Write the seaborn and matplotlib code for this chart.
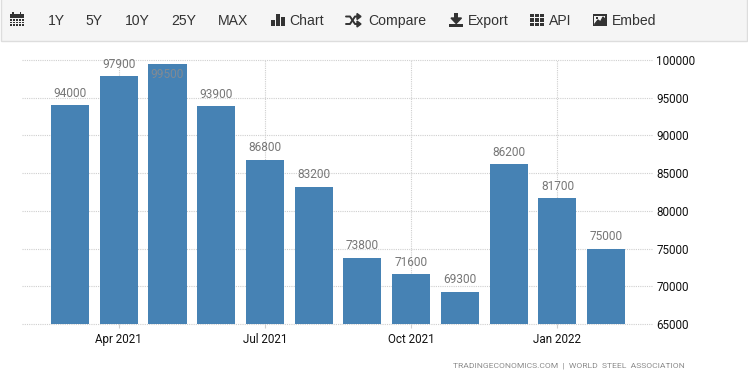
import matplotlib
matplotlib.use('Agg')
import matplotlib.pyplot as plt
import pandas as pd
import seaborn as sns
from matplotlib.patches import Rectangle, Polygon

months = ['Mar 2021', 'Apr 2021', 'May 2021', 'Jun 2021', 'Jul 2021', 'Aug 2021',
          'Sep 2021', 'Oct 2021', 'Nov 2021', 'Dec 2021', 'Jan 2022', 'Feb 2022']
production = [94000, 97900, 99500, 93900, 86800, 83200,
              73800, 71600, 69300, 86200, 81700, 75000]
y_ticks = [65000, 70000, 75000, 80000, 85000, 90000, 95000, 100000]
x_tick_labels = ['Apr 2021', 'Jul 2021', 'Oct 2021', 'Jan 2022']
range_buttons = ['1Y', '5Y', '10Y', '25Y', 'MAX']
menu_buttons = ['Chart', 'Compare', 'Export', 'API', 'Embed']
source_text = 'TRADINGECONOMICS.COM  |  WORLD  STEEL  ASSOCIATION'

W, H = 748, 380
sns.set_theme(style='white')
plt.rcParams['font.family'] = ['Liberation Sans', 'DejaVu Sans']

df = pd.DataFrame({'month': months, 'production': production})

fig = plt.figure(figsize=(W / 100, H / 100), dpi=100)
fig.patch.set_facecolor('white')
ax = fig.add_axes([22 / W, 1 - 324 / H, 630 / W, 264 / H])

sns.barplot(data=df, x='month', y='production', color='#4682b4', saturation=1,
            width=0.78, linewidth=0, ax=ax, zorder=3)

ax.set_xlim(-0.985, 11.94)
ax.set_ylim(65000, 100000)
ax.set_xlabel('')
ax.set_ylabel('')
for s in ax.spines.values():
    s.set_visible(False)

# grid
ax.set_axisbelow(True)
ax.grid(True, color='#cfcfcf', linestyle=(0, (1, 1)), linewidth=0.8, clip_on=False)

ax.yaxis.tick_right()
ax.set_yticks(y_ticks)
ax.set_yticklabels([str(v) for v in y_ticks], family='Roboto', fontsize=8.4, color='#111111')
ax.tick_params(axis='y', length=0, pad=3)
ax.set_xticks([months.index(m) for m in x_tick_labels])
ax.set_xticklabels(x_tick_labels, family='Roboto', fontsize=8.4, color='#111111')
ax.tick_params(axis='x', length=3, width=0.8, color='#cfcfcf', pad=3.5, bottom=True)

# value labels
for i, v in enumerate(production):
    if v == max(production):
        ax.annotate(str(v), (i, v), xytext=(0, -8), textcoords='offset points', ha='center',
                    va='center', family='Roboto', fontsize=8.6, color='#808a94', zorder=5)
    else:
        ax.annotate(str(v), (i, v), xytext=(0, 8.5), textcoords='offset points', ha='center',
                    va='center', family='Roboto', fontsize=8.6, color='#777777', zorder=5,
                    annotation_clip=False)

fig.text(685 / W, 1 - 366 / H, source_text, ha='right', va='center', family='Roboto',
         fontsize=6.1, color='#8c8c8c')

# toolbar, drawn in pixel coordinates
bar = fig.add_axes([0, 0, 1, 1], facecolor='none')
bar.set_xlim(0, W)
bar.set_ylim(H, 0)
bar.axis('off')
bar.add_patch(Rectangle((0.5, -2), W - 1, 42.5, facecolor='#f5f5f5', edgecolor='#dddddd', linewidth=1))

dark = '#333333'
for label, x in zip(range_buttons, [56, 94.5, 137.5, 184, 233.5]):
    bar.text(x, 21, label, ha='center', va='center', fontsize=10.1, color=dark)
for label, x in zip(menu_buttons, [289, 368, 468, 549, 612]):
    bar.text(x, 21, label, ha='left', va='center', fontsize=10.1, color=dark)

def box(x, y, w, h, c=dark):
    bar.add_patch(Rectangle((x, y), w, h, facecolor=c, edgecolor='none'))

# calendar
box(10, 14, 14, 12)
box(10, 18, 14, 0.7, '#f5f5f5')
for gx in [12.5, 15.5, 18.5, 21.5]:
    box(gx, 19, 0.6, 6.5, '#f5f5f5')
for gy in [21, 23.3]:
    box(10, gy, 14, 0.6, '#f5f5f5')
box(12.5, 12, 1.5, 3)
box(20, 12, 1.5, 3)

# chart bars
box(271.5, 20, 3.5, 6)
box(276.5, 14, 3.5, 12)
box(281.5, 17, 3.5, 9)

# shuffle
bar.plot([346, 350, 355, 358], [16.5, 16.5, 24, 24], color=dark, lw=1.4)
bar.plot([346, 350, 355, 358], [24, 24, 16.5, 16.5], color=dark, lw=1.4)
bar.add_patch(Polygon([[357, 13.5], [361, 16.5], [357, 19.5]], color=dark))
bar.add_patch(Polygon([[357, 21], [361, 24], [357, 27]], color=dark))

# export
box(454.5, 13, 3.5, 6)
bar.add_patch(Polygon([[451, 18], [461.5, 18], [456.2, 23.5]], color=dark))
box(449.5, 23.5, 13.5, 3)

# api grid
for gx in [530.5, 535.5, 540]:
    for gy in [13.5, 18, 22.5]:
        box(gx, gy, 3.6, 3.6)

# embed image
box(593, 14, 14, 12)
box(594.5, 15.5, 11, 9, '#f5f5f5')
bar.add_patch(Polygon([[594.5, 24.5], [598, 20], [600.5, 22], [603, 17], [605.5, 20], [605.5, 24.5]], color=dark))
box(596, 16.5, 2.5, 2.5)

fig.savefig('out.png', dpi=100)
